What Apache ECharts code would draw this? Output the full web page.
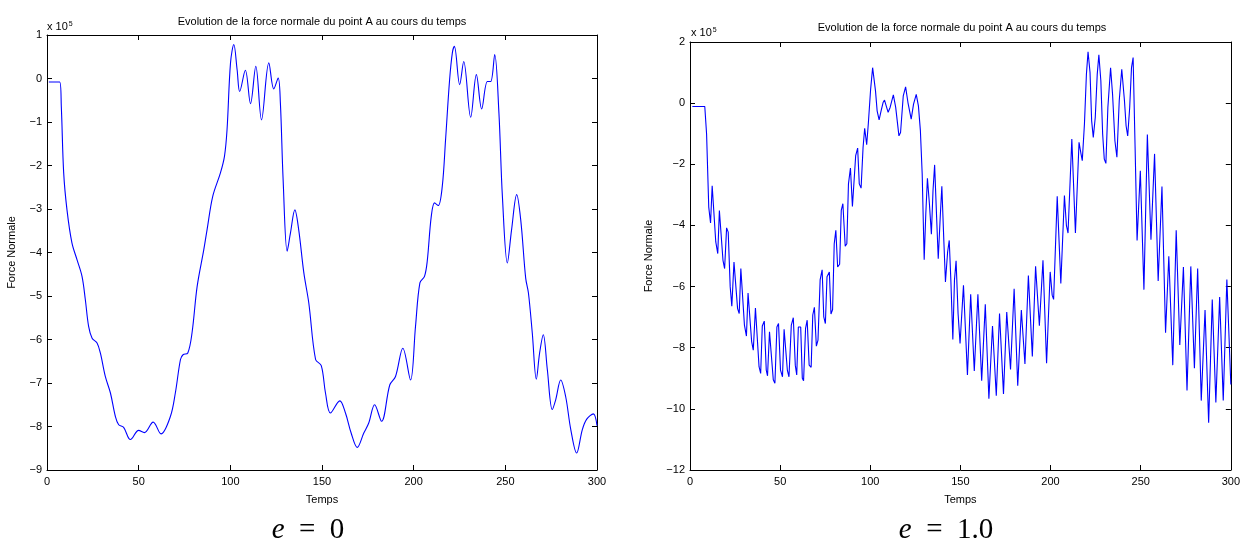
<!DOCTYPE html>
<html>
<head>
<meta charset="utf-8">
<script src="https://cdn.jsdelivr.net/npm/echarts@6/dist/echarts.min.js"></script>
<style>
html,body{margin:0;padding:0;background:#fff;}
#chart{width:1243px;height:544px;}
</style>
</head>
<body>
<div id="chart"></div>
<script>
// ---- Data (force values in units of 10^5) ----
const TITLE = 'Evolution de la force normale du point A au cours du temps';
const X_NAME = 'Temps';
const Y_NAME = 'Force Normale';
const CAPTIONS = ['0', '1.0'];

const time_e0 = [1,6.9,7.8,9.1,10.9,13.6,16.4,19.1,20.9,22.7,24.6,27.3,29.1,31.8,34.6,37.3,39.1,41.8,45.5,50,53.1,57.9,62.2,67.3,70,72.8,74.2,76.8,79.1,81.9,85.5,87.3,90.4,94.6,96.8,98.2,100.1,101.9,103.7,105.1,108.2,111,113.9,117,121,123.7,126.1,127.3,128.8,131,132.8,135.2,137.3,140.1,142.8,146.5,149.6,151.9,154.6,159.7,162.8,165.9,169.2,172.8,175.5,178.7,182.5,187,190.1,194.1,198.3,201,203.4,205.9,207.4,209.6,211.4,213.4,215.6,217.4,219.6,221.1,222.2,225.1,227.3,231.1,234.2,237.1,240.2,242,244.2,246.5,248.4,251.1,253.4,256.2,258.4,261.1,262.6,264.7,266.9,268.7,270.7,272.9,275.6,277.5,280.2,282.9,285.7,288.9,292,294.4,298,300];
const force_e0 = [-0.08,-0.08,-0.64,-2.17,-3.02,-3.78,-4.17,-4.55,-5.08,-5.70,-5.97,-6.08,-6.31,-6.85,-7.23,-7.77,-7.96,-8.02,-8.30,-8.09,-8.14,-7.90,-8.17,-7.77,-7.23,-6.46,-6.35,-6.31,-5.85,-4.78,-3.94,-3.48,-2.71,-2.17,-1.79,-1.18,0.36,0.78,0.20,-0.30,0.19,-0.58,0.28,-0.95,0.36,-0.24,0.01,-0.56,-2.33,-3.97,-3.55,-3.02,-3.48,-4.47,-5.16,-6.46,-6.60,-7.23,-7.69,-7.41,-7.69,-8.15,-8.48,-8.15,-7.92,-7.50,-7.88,-7.04,-6.85,-6.20,-6.93,-5.70,-4.70,-4.55,-4.20,-3.17,-2.86,-2.92,-2.48,-1.41,-0.03,0.59,0.74,-0.14,0.39,-0.89,0.09,-0.70,-0.07,-0.07,0.55,-0.79,-2.71,-4.24,-3.48,-2.67,-3.25,-4.59,-4.93,-5.85,-6.91,-6.31,-5.89,-6.69,-7.61,-7.38,-6.93,-7.31,-8.07,-8.61,-8.07,-7.83,-7.71,-7.98];

const time_e1 = [1.3,8.2,9.2,10.4,11.4,12.3,13.4,14.3,15.4,16.3,17.2,18.3,19.2,20.3,21.2,22.3,23.2,24.4,25.3,26.4,27.3,28.2,29.1,30.2,31.3,32.2,33.3,34.2,35.1,36.3,37.2,38.3,39.2,40.1,41.2,42.3,43.0,44.1,45.2,46.2,47.1,48.2,49.1,50.2,51.3,52.2,53.1,54.0,54.9,56.2,57.3,58.4,59.2,60.1,61.4,62.3,63.0,64.1,65.0,66.1,67.2,68.1,69.0,70.1,71.0,72.2,73.3,74.2,75.1,76.0,77.3,78.2,79.1,80.0,80.9,81.9,83.0,83.9,84.8,86.1,87.0,87.9,89.0,90.1,91.0,91.9,93.0,93.9,94.9,96.0,96.9,98.0,98.9,100.2,101.3,101.8,102.9,103.8,104.9,106.0,107.1,107.9,109.0,109.9,111.0,112.8,114.1,115.9,116.8,118.3,119.6,120.9,122.7,124.0,125.5,126.7,127.8,128.8,129.9,130.8,131.7,132.8,133.9,134.8,135.7,136.8,137.7,138.8,139.7,140.8,141.7,142.9,143.8,144.7,145.8,146.7,147.6,148.7,149.8,151.7,153.9,155.7,157.7,159.7,161.8,163.8,165.8,167.8,169.9,171.7,173.9,175.7,177.8,179.8,181.8,183.8,185.8,187.7,189.9,191.7,193.8,195.8,197.8,199.8,200.9,201.7,203.7,205.7,207.7,208.8,209.7,211.8,213.8,215.8,216.9,217.6,218.8,219.9,220.8,221.9,222.8,223.7,224.8,225.9,226.8,227.9,228.9,229.8,230.7,231.8,233.3,234.4,235.7,236.8,238.1,239.5,241.0,241.9,242.8,243.9,244.9,245.8,246.9,248.0,249.8,251.8,253.7,255.7,257.7,259.7,261.8,263.8,265.6,267.8,269.7,271.7,273.7,275.7,277.8,279.8,281.6,283.6,285.7,287.7,289.7,291.7,293.8,295.8,297.8,300];
const force_e1 = [-0.11,-0.11,-1.01,-3.40,-3.92,-2.70,-2.75,-4.54,-4.92,-3.51,-3.51,-5.14,-5.41,-4.08,-4.22,-6.01,-6.64,-5.20,-5.17,-6.72,-6.88,-5.41,-5.45,-7.26,-7.62,-6.21,-6.23,-7.80,-8.08,-6.70,-6.75,-8.62,-8.84,-7.29,-7.13,-8.73,-8.92,-7.48,-7.49,-9.05,-9.16,-7.32,-7.21,-8.73,-8.95,-7.40,-7.34,-8.73,-8.95,-7.26,-7.02,-8.57,-8.89,-7.32,-7.32,-9.00,-9.08,-7.37,-7.10,-8.57,-8.64,-6.93,-6.68,-7.95,-7.75,-5.77,-5.45,-6.99,-7.21,-5.68,-5.52,-6.90,-6.75,-4.60,-4.16,-5.36,-5.27,-3.51,-3.29,-4.68,-4.60,-2.64,-2.12,-3.38,-3.38,-1.72,-1.47,-2.64,-2.78,-1.45,-0.82,-1.36,-0.68,0.46,1.16,1.22,0.40,-0.25,-0.55,-0.25,0.02,0.10,-0.12,-0.30,-0.14,0.27,-0.14,-1.07,-0.96,0.24,0.53,0.02,-0.52,-0.03,0.29,-0.09,-0.90,-2.32,-5.12,-3.62,-2.46,-3.29,-4.29,-2.86,-2.02,-3.73,-5.09,-3.73,-2.72,-4.49,-5.85,-4.87,-4.49,-5.79,-7.73,-5.79,-5.16,-6.88,-7.86,-5.96,-8.89,-6.25,-8.76,-6.25,-9.08,-6.58,-9.67,-7.29,-9.57,-6.88,-9.51,-6.83,-8.71,-6.07,-9.24,-6.77,-8.53,-5.64,-8.29,-5.34,-7.28,-5.14,-8.51,-5.52,-6.28,-6.42,-3.05,-5.90,-3.02,-4.00,-4.25,-1.17,-4.25,-1.28,-1.66,-1.88,-0.68,0.95,1.68,1.00,-0.58,-1.12,-0.47,0.95,1.58,0.73,-1.01,-1.83,-1.97,-0.14,1.16,0.29,-1.23,-1.77,0.08,1.11,0.08,-0.74,-1.07,-0.14,1.16,1.49,-1.45,-4.49,-2.21,-6.10,-1.03,-4.47,-1.66,-5.82,-2.73,-7.51,-5.01,-8.57,-4.16,-7.91,-5.36,-9.40,-5.34,-8.67,-5.41,-9.73,-6.77,-10.45,-6.42,-9.79,-6.34,-9.73,-5.77,-9.2];

const X_RANGE = [0, 300, 50];
const Y_RANGE_E0 = [-9, 1, 1];
const Y_RANGE_E1 = [-12, 2, 2];

// ---- Chart ----
const chart = echarts.init(document.getElementById('chart'), null, {renderer: 'canvas'});
const FONT = 'Liberation Sans, Arial, Helvetica, sans-serif';
const minus = v => String(v).replace('-', '\u2212');

const grids = [
  {left: 47, top: 35, width: 550, height: 435},
  {left: 690, top: 42, width: 544, height: 428}
];

function xAxes(gi) {
  const base = {
    gridIndex: gi, type: 'value', min: X_RANGE[0], max: X_RANGE[1], interval: X_RANGE[2],
    splitLine: {show: false},
    axisLine: {show: true, onZero: false, lineStyle: {color: '#000', width: 1}},
    axisTick: {show: true, inside: true, length: 5, lineStyle: {color: '#000'}}
  };
  return [
    Object.assign({}, base, {position: 'bottom', name: X_NAME, nameLocation: 'middle', nameGap: 24,
      nameTextStyle: {fontFamily: FONT, fontSize: 11, color: '#000'},
      axisLabel: {fontFamily: FONT, fontSize: 11, color: '#000', margin: 6, formatter: minus}}),
    Object.assign({}, base, {position: 'top', axisLabel: {show: false}})
  ];
}
function yAxes(gi, range, gap) {
  const base = {
    gridIndex: gi, type: 'value', min: range[0], max: range[1], interval: range[2],
    splitLine: {show: false},
    axisLine: {show: true, onZero: false, lineStyle: {color: '#000', width: 1}},
    axisTick: {show: true, inside: true, length: 5, lineStyle: {color: '#000'}}
  };
  return [
    Object.assign({}, base, {position: 'left', name: Y_NAME, nameLocation: 'middle', nameGap: gap,
      nameTextStyle: {fontFamily: FONT, fontSize: 11, color: '#000'},
      axisLabel: {fontFamily: FONT, fontSize: 11, color: '#000', margin: 5, formatter: minus}}),
    Object.assign({}, base, {position: 'right', axisLabel: {show: false}})
  ];
}

const pairs = (t, v) => t.map((x, i) => [x, v[i]]);

function exponentLabel(x, y) {
  return {
    type: 'text', x: x, y: y,
    style: {
      text: '{a|x 10}{b|5}',
      rich: {
        a: {fontFamily: FONT, fontSize: 11, fill: '#000'},
        b: {fontFamily: FONT, fontSize: 7, fill: '#000', verticalAlign: 'top', padding: [0, 0, 6, 1]}
      },
      textVerticalAlign: 'middle'
    }
  };
}
const SERIF = 'Liberation Serif, serif';
function caption(cx, y, val) {
  return {
    type: 'text', x: cx, y: y,
    style: {
      text: '{e|e}{n|\u00a0\u00a0=\u00a0\u00a0' + val + '}',
      rich: {
        e: {fontFamily: SERIF, fontStyle: 'italic', fontSize: 29, fill: '#000'},
        n: {fontFamily: SERIF, fontSize: 29, fill: '#000'}
      },
      textAlign: 'center', textVerticalAlign: 'middle'
    }
  };
}

const option = {
  backgroundColor: '#fff',
  animation: false,
  title: [
    {text: TITLE, left: 322, top: 16, padding: 0, textAlign: 'center',
     textStyle: {fontFamily: FONT, fontSize: 11, fontWeight: 'normal', color: '#000'}},
    {text: TITLE, left: 962, top: 22, padding: 0, textAlign: 'center',
     textStyle: {fontFamily: FONT, fontSize: 11, fontWeight: 'normal', color: '#000'}}
  ],
  grid: grids,
  xAxis: [].concat(xAxes(0), xAxes(1)),
  yAxis: [].concat(yAxes(0, Y_RANGE_E0, 30), yAxes(1, Y_RANGE_E1, 36)),
  series: [
    {type: 'line', xAxisIndex: 0, yAxisIndex: 0, data: pairs(time_e0, force_e0),
     showSymbol: false, smooth: 0.35, lineStyle: {color: '#0000ff', width: 1.1}},
    {type: 'line', xAxisIndex: 2, yAxisIndex: 2, data: pairs(time_e1, force_e1),
     showSymbol: false, smooth: false, lineStyle: {color: '#0000ff', width: 1.1}}
  ],
  graphic: [
    exponentLabel(47, 27),
    exponentLabel(691, 33),
    caption(308, 530, CAPTIONS[0]),
    caption(946, 530, CAPTIONS[1])
  ]
};
chart.setOption(option);
</script>
</body>
</html>
